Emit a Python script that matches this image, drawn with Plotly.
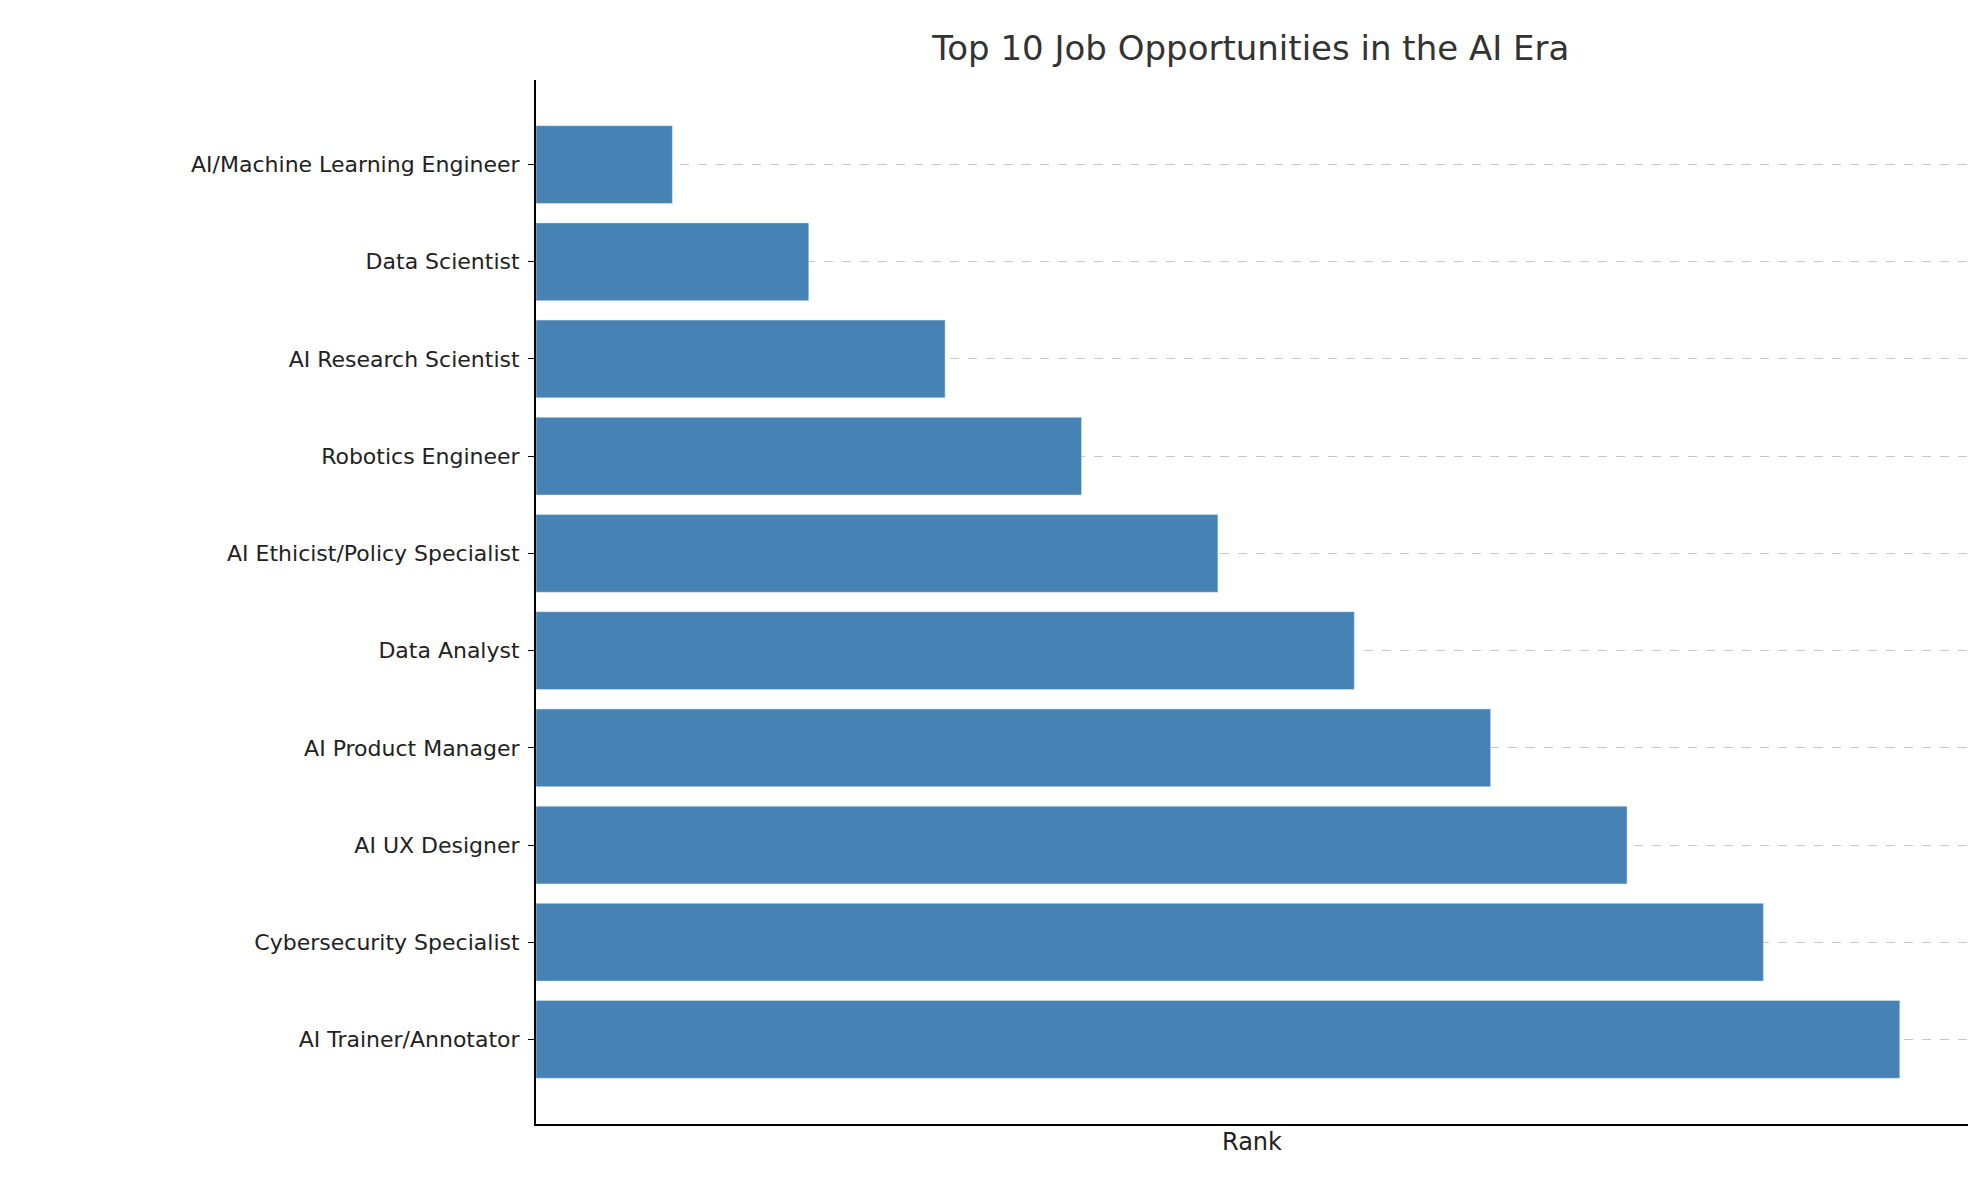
import plotly.graph_objects as go

jobs = ["AI/Machine Learning Engineer", "Data Scientist", "AI Research Scientist",
        "Robotics Engineer", "AI Ethicist/Policy Specialist", "Data Analyst",
        "AI Product Manager", "AI UX Designer", "Cybersecurity Specialist",
        "AI Trainer/Annotator"]
ranks = [1, 2, 3, 4, 5, 6, 7, 8, 9, 10]

fig = go.Figure(go.Bar(y=jobs, x=ranks, orientation="h", marker_color="#4682b4",
                       width=0.8))
fig.update_layout(
    width=1979, height=1180, plot_bgcolor="white", paper_bgcolor="white",
    font=dict(family="DejaVu Sans", size=22, color="#222"),
    title=dict(text="Top 10 Job Opportunities in the AI Era", x=0.628, xanchor="center",
               y=0.966, yanchor="middle", font=dict(size=34, color="#333")),
    margin=dict(l=528, r=19, t=72, b=64),
    showlegend=False,
)
fig.update_xaxes(range=[0, 10.5], showticklabels=False, showgrid=False,
                 showline=True, linecolor="black", linewidth=2,
                 title=dict(text="Rank", standoff=8, font=dict(size=24)))
fig.update_yaxes(autorange=False, range=[9.87, -0.87], categoryorder="array",
                 categoryarray=jobs, showline=True, linecolor="black", linewidth=2,
                 ticks="outside", ticklen=6, tickcolor="black",
                 showgrid=True, gridcolor="#c8c8c8", griddash="dash", gridwidth=1,
                 layer="above traces", ticklabelstandoff=4)
fig.write_html("out.html")
